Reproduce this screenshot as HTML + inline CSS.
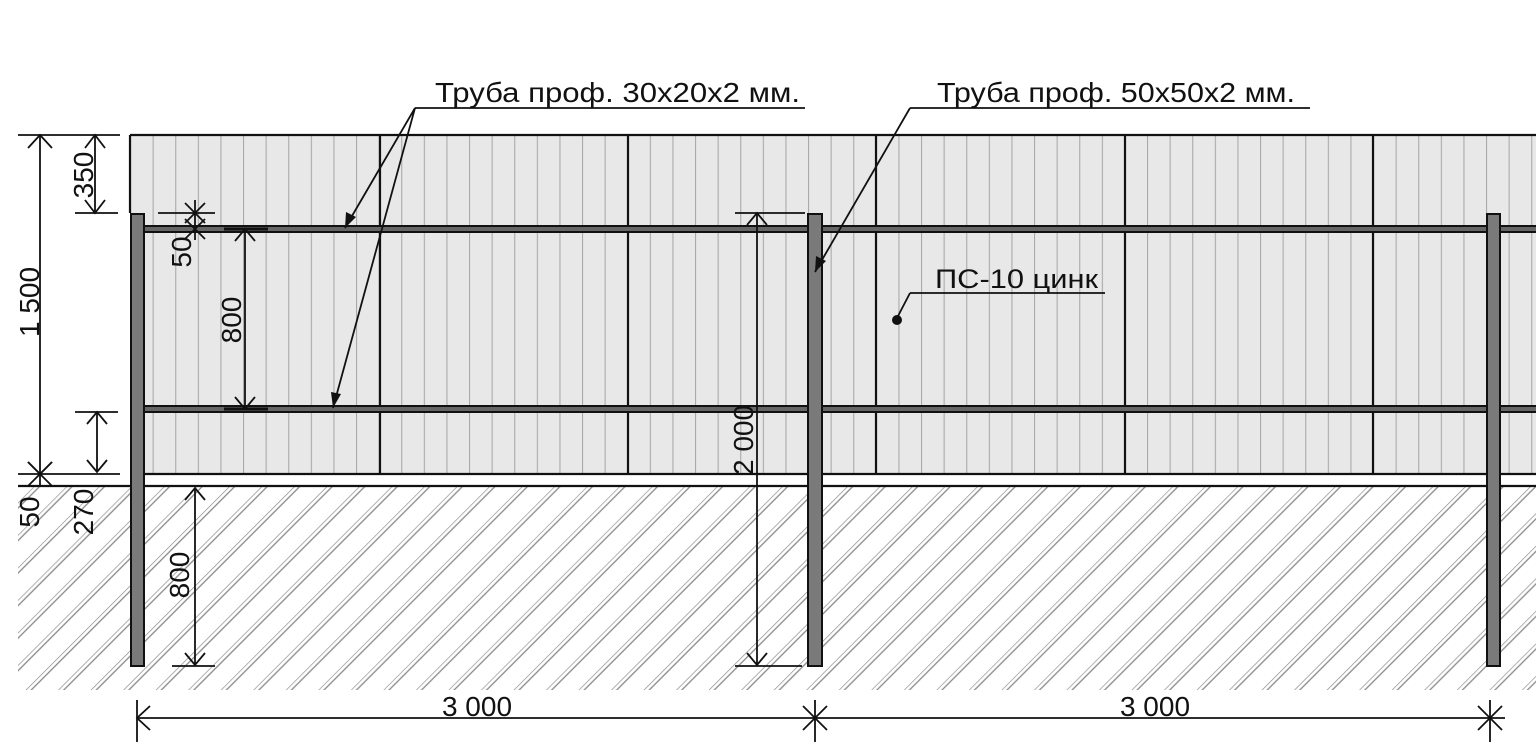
<!DOCTYPE html>
<html><head><meta charset="utf-8"><style>
html,body{margin:0;padding:0;background:#fff;width:1536px;height:750px;overflow:hidden}
text{font-family:"Liberation Sans",sans-serif;fill:#111}
</style></head><body>
<svg width="1536" height="750" viewBox="0 0 1536 750" xmlns="http://www.w3.org/2000/svg">
<defs>
<pattern id="h" width="23" height="23" patternUnits="userSpaceOnUse" patternTransform="rotate(45)">
<line x1="0" y1="0" x2="0" y2="23" stroke="#888" stroke-width="1.3"/>
<line x1="4" y1="0" x2="4" y2="23" stroke="#888" stroke-width="1.3"/>
</pattern>
<pattern id="s" width="22.6" height="400" patternUnits="userSpaceOnUse" x="130">
<line x1="0.5" y1="0" x2="0.5" y2="400" stroke="#aaa" stroke-width="1.2"/>
</pattern>
</defs>
<rect x="18" y="487" width="1518" height="203" fill="url(#h)"/>
<rect x="130" y="135" width="1406" height="339" fill="#e8e8e8"/>
<rect x="130" y="135" width="1406" height="339" fill="url(#s)"/>
<g stroke="#111" stroke-width="2.2">
<line x1="130" y1="135" x2="1536" y2="135"/>
<line x1="130" y1="135" x2="130" y2="213"/>
<line x1="130" y1="474" x2="1536" y2="474"/>
<line x1="18" y1="486" x2="1536" y2="486"/>
<line x1="380" y1="135" x2="380" y2="474"/>
<line x1="628" y1="135" x2="628" y2="474"/>
<line x1="876" y1="135" x2="876" y2="474"/>
<line x1="1125" y1="135" x2="1125" y2="474"/>
<line x1="1373" y1="135" x2="1373" y2="474"/>
</g>
<g fill="#666" stroke="#111" stroke-width="2">
<rect x="140" y="226" width="1400" height="6"/>
<rect x="140" y="406" width="1400" height="6"/>
</g>
<g fill="#7a7a7a" stroke="#111" stroke-width="2">
<rect x="131" y="214" width="13" height="452"/>
<rect x="808" y="214" width="14" height="452"/>
<rect x="1487" y="214" width="13" height="452"/>
</g>
<g stroke="#111" stroke-width="1.8" fill="none">
<line x1="18" y1="135" x2="120" y2="135"/>
<line x1="18" y1="474" x2="120" y2="474"/>
<line x1="75" y1="213" x2="118" y2="213"/>
<line x1="75" y1="412" x2="118" y2="412"/>
<line x1="40" y1="135" x2="40" y2="486"/>
<polyline points="28,148 40,135 52,148"/><polyline points="28,462 40,474 52,462"/>
<line x1="28" y1="462" x2="52" y2="486"/><line x1="52" y1="462" x2="28" y2="486"/>
<line x1="95" y1="135" x2="95" y2="213"/>
<polyline points="85,148 95,135 105,148"/><polyline points="85,200 95,213 105,200"/>
<line x1="97" y1="412" x2="97" y2="472"/>
<polyline points="87,424 97,412 107,424"/><polyline points="87,460 97,472 107,460"/>
<line x1="158" y1="213" x2="215" y2="213"/>
<line x1="195" y1="200" x2="195" y2="240"/>
<line x1="185" y1="203" x2="205" y2="223"/><line x1="205" y1="203" x2="185" y2="223"/>
<line x1="185" y1="219" x2="205" y2="239"/><line x1="205" y1="219" x2="185" y2="239"/>
<line x1="245" y1="229" x2="245" y2="409"/>
<polyline points="235,241 245,229 255,241"/><polyline points="235,397 245,409 255,397"/>
<line x1="224" y1="229" x2="268" y2="229" stroke-width="3"/>
<line x1="224" y1="409" x2="268" y2="409" stroke-width="3"/>
<line x1="195" y1="488" x2="195" y2="665"/>
<polyline points="185,500 195,488 205,500"/><polyline points="185,653 195,665 205,653"/>
<line x1="172" y1="666" x2="215" y2="666"/>
<line x1="757" y1="213" x2="757" y2="665"/>
<polyline points="747,225 757,213 767,225"/><polyline points="747,653 757,665 767,653"/>
<line x1="735" y1="213" x2="805" y2="213"/>
<line x1="735" y1="666" x2="802" y2="666"/>
<line x1="137" y1="718" x2="1505" y2="718"/>
<line x1="137" y1="700" x2="137" y2="742"/>
<polyline points="150,706 137,718 150,730"/>
<line x1="815" y1="700" x2="815" y2="742"/>
<line x1="803" y1="706" x2="827" y2="730"/><line x1="827" y1="706" x2="803" y2="730"/>
<line x1="1490" y1="700" x2="1490" y2="742"/>
<line x1="1478" y1="706" x2="1502" y2="730"/><line x1="1502" y1="706" x2="1478" y2="730"/>
<line x1="415" y1="108" x2="805" y2="108"/>
<line x1="415" y1="108" x2="345" y2="228"/>
<line x1="415" y1="108" x2="333" y2="408"/>
<line x1="910" y1="108" x2="1310" y2="108"/>
<line x1="910" y1="108" x2="815" y2="272"/>
<line x1="910" y1="293" x2="1105" y2="293"/>
<line x1="910" y1="293" x2="897" y2="318"/>
</g>
<g fill="#111">
<polygon points="345,228 346,212 356,217"/>
<polygon points="333,408 331,392 341,394"/>
<polygon points="815,272 816,256 826,261"/>
<circle cx="897" cy="320" r="5"/>
</g>
<text x="435" y="102" font-size="28" textLength="365" lengthAdjust="spacingAndGlyphs">Труба проф. 30х20х2 мм.</text>
<text x="937" y="102" font-size="28" textLength="358" lengthAdjust="spacingAndGlyphs">Труба проф. 50х50х2 мм.</text>
<text x="935" y="288" font-size="27" textLength="163" lengthAdjust="spacingAndGlyphs">ПС-10 цинк</text>
<text x="477" y="716" font-size="28" text-anchor="middle">3 000</text>
<text x="1155" y="716" font-size="28" text-anchor="middle">3 000</text>
<g font-size="28">
<text transform="translate(39,302) rotate(-90)" text-anchor="middle">1 500</text>
<text transform="translate(93,175) rotate(-90)" text-anchor="middle">350</text>
<text transform="translate(191,252) rotate(-90)" text-anchor="middle">50</text>
<text transform="translate(241,320) rotate(-90)" text-anchor="middle">800</text>
<text transform="translate(189,575) rotate(-90)" text-anchor="middle">800</text>
<text transform="translate(753,440) rotate(-90)" text-anchor="middle">2 000</text>
<text transform="translate(39,512) rotate(-90)" text-anchor="middle">50</text>
<text transform="translate(93,512) rotate(-90)" text-anchor="middle">270</text>
</g>
</svg>
</body></html>
